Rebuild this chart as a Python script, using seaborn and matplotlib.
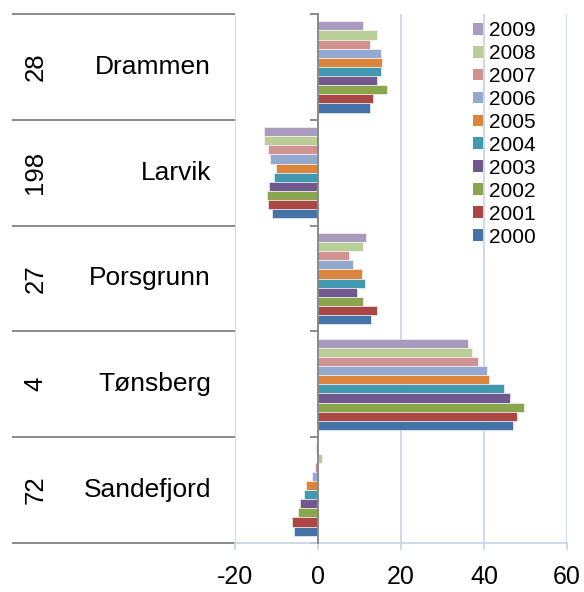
import numpy as np
import pandas as pd
import seaborn as sns
import matplotlib
matplotlib.use("Agg")
import matplotlib.pyplot as plt
from matplotlib.transforms import blended_transform_factory

plt.rcParams['font.family'] = ['Liberation Sans', 'DejaVu Sans']

# ---- data ----
cities = ["Drammen", "Larvik", "Porsgrunn", "Tønsberg", "Sandefjord"]
codes = ["28", "198", "27", "4", "72"]
years = ["2009", "2008", "2007", "2006", "2005", "2004", "2003", "2002", "2001", "2000"]
v2009 = [10.9, -12.9, 11.5, 36.2, -0.6]
v2008 = [14.2, -13.0, 10.9, 37.2, 0.9]
v2007 = [12.6, -12.0, 7.5, 38.6, -0.8]
v2006 = [15.3, -11.6, 8.4, 40.7, -1.5]
v2005 = [15.4, -10.2, 10.7, 41.3, -2.9]
v2004 = [15.1, -10.5, 11.4, 44.7, -3.4]
v2003 = [14.1, -11.8, 9.4, 46.3, -4.3]
v2002 = [16.7, -12.4, 10.9, 49.6, -4.8]
v2001 = [13.3, -12.0, 14.3, 48.0, -6.2]
v2000 = [12.5, -11.1, 12.7, 46.9, -5.7]
series = [v2009, v2008, v2007, v2006, v2005, v2004, v2003, v2002, v2001, v2000]
colors = ["#A99BBD", "#B9CD96", "#D19392", "#93A9CF", "#DB843D",
          "#4198AF", "#71588F", "#89A54E", "#AA4643", "#4572A7"]
xticks = [-20, 0, 20, 40, 60]

rows = []
for y, vals in zip(years, series):
    for c, v in zip(cities, vals):
        rows.append({"city": c, "year": y, "value": v})
df = pd.DataFrame(rows)

W, H = 584, 592
fig = plt.figure(figsize=(W / 100, H / 100), dpi=100)
ax = fig.add_axes([235 / W, (H - 543) / H, (567 - 235) / W, (543 - 14) / H])

grid_blue = "#C3D3E8"
gray = "#8A8A8A"

sns.barplot(data=df, y="city", x="value", hue="year", order=cities,
            hue_order=years, palette=colors, orient="h", width=0.863,
            saturation=1, edgecolor="white", linewidth=0.4, ax=ax)

ax.set_xlim(xticks[0], xticks[-1])
ax.set_ylim(len(cities) - 0.5, -0.5)
ax.set_xticks(xticks)
ax.set_xticklabels([str(t) for t in xticks])
ax.set_xlabel("")
ax.set_ylabel("")

ax.set_axisbelow(True)
ax.xaxis.grid(True, color=grid_blue, lw=1.2)
ax.yaxis.grid(False)

for s in ["top", "right"]:
    ax.spines[s].set_visible(False)
ax.spines["bottom"].set_color(grid_blue)
ax.spines["bottom"].set_linewidth(1.2)
ax.spines["left"].set_position(("data", 0))
ax.spines["left"].set_color(gray)
ax.spines["left"].set_linewidth(1.4)
ax.spines["left"].set_zorder(5)

ax.tick_params(axis="x", direction="out", length=5, width=1.2, color=grid_blue,
               labelsize=18, pad=11, labelcolor="black")
ax.set_yticks(range(len(cities)))
ax.set_yticklabels([])
ax.tick_params(axis="y", which="major", length=0)
boundaries = np.arange(len(cities) + 1) - 0.5
ax.set_yticks(boundaries, minor=True)
ax.tick_params(axis="y", which="minor", direction="out", length=5.5, width=1.4, color=gray)

# multi-level category table on the left
trans = blended_transform_factory(fig.transFigure, ax.transData)
for b in boundaries:
    ax.plot([12 / W, 235 / W], [b, b], transform=trans, clip_on=False,
            color=gray, lw=1.4, solid_capstyle="butt")
for i, (c, code) in enumerate(zip(cities, codes)):
    ax.text(211 / W, i, c, transform=trans, ha="right", va="center", fontsize=19)
    ax.text(35.5 / W, i, code, transform=trans, ha="center", va="center",
            rotation=90, fontsize=18.5)

handles, labels = ax.get_legend_handles_labels()
for h in handles:
    h.set_edgecolor("none")
ax.legend(handles, labels, loc="upper left",
          bbox_to_anchor=(473 / W, (H - 21) / H), bbox_transform=fig.transFigure,
          frameon=False, borderpad=0, borderaxespad=0, fontsize=15,
          handlelength=0.5, handleheight=0.5, handletextpad=0.28,
          labelspacing=0.19)

fig.savefig("out.png", dpi=100)
